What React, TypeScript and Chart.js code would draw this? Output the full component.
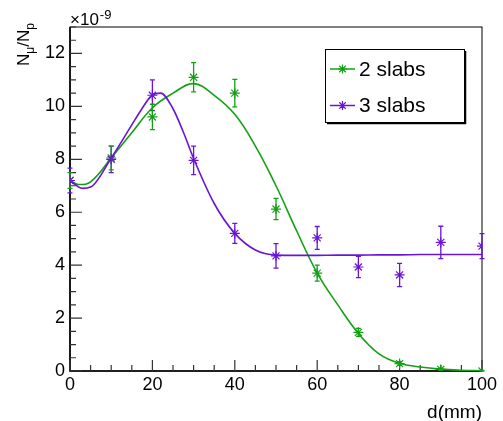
import { useEffect, useRef } from "react";
import Chart from "chart.js/auto";

const distances = [0, 10, 20, 30, 40, 50, 60, 70, 80, 90, 100];
const twoSlabs = [7.2, 8.05, 9.6, 11.1, 10.5, 6.12, 3.7, 1.46, 0.28, 0.06, 0.0];
const twoSlabsErr = [0.3, 0.45, 0.48, 0.55, 0.52, 0.4, 0.3, 0.15, 0.07, 0.04, 0.02];
const threeSlabs = [7.2, 8.0, 10.42, 7.96, 5.2, 4.35, 5.03, 3.93, 3.63, 4.86, 4.72];
const threeSlabsErr = [0.47, 0.5, 0.58, 0.54, 0.38, 0.46, 0.43, 0.4, 0.44, 0.61, 0.47];

// fitted curves
const twoFitX = [0, 2, 5, 10, 15, 20, 25, 30, 35, 40, 45, 50, 55, 60, 65, 70, 75, 80, 85, 90, 95, 100];
const twoFitY = [7.2, 7.05, 7.15, 8.05, 9.0, 9.95, 10.5, 10.86, 10.42, 9.7, 8.5, 7.0, 5.3, 3.7, 2.5, 1.42, 0.65, 0.29, 0.15, 0.07, 0.03, 0.01];
const threeFitX = [0, 3, 5, 10, 15, 17, 20, 22, 25, 27.5, 30, 35, 40, 45, 50, 55, 60, 65, 70, 75, 80, 85, 90, 95, 100];
const threeFitY = [7.2, 6.9, 6.95, 8.05, 9.3, 9.8, 10.43, 10.5, 9.91, 9.03, 8.03, 6.33, 5.2, 4.57, 4.38, 4.37, 4.37, 4.38, 4.38, 4.39, 4.39, 4.4, 4.4, 4.4, 4.4];

const xMajor = [0, 20, 40, 60, 80, 100];
const yMajor = [0, 2, 4, 6, 8, 10, 12];

const GREEN = "#14a014";
const PURPLE = "#6a14d6";
const FONT = "'Liberation Sans', Arial, sans-serif";

const toPoints = (xs: number[], ys: number[]) => xs.map((x, i) => ({ x, y: ys[i] }));

const errors: Record<number, number[]> = { 2: threeSlabsErr, 3: twoSlabsErr };

function drawStar(ctx: CanvasRenderingContext2D, x: number, y: number, r: number) {
  ctx.beginPath();
  ctx.moveTo(x - r, y);
  ctx.lineTo(x + r, y);
  ctx.moveTo(x, y - r);
  ctx.lineTo(x, y + r);
  const d = r * 0.72;
  ctx.moveTo(x - d, y - d);
  ctx.lineTo(x + d, y + d);
  ctx.moveTo(x - d, y + d);
  ctx.lineTo(x + d, y - d);
  ctx.stroke();
}

const framePlugin = {
  id: "frame",
  beforeDatasetsDraw(chart: any) {
    const { ctx, chartArea: a, scales } = chart;
    const x = scales.x;
    const y = scales.y;
    ctx.save();
    ctx.strokeStyle = "#000";
    ctx.lineWidth = 1;
    ctx.strokeRect(a.left, a.top, a.right - a.left, a.bottom - a.top);
    ctx.lineWidth = 1.6;
    ctx.beginPath();
    ctx.moveTo(a.left, a.top);
    ctx.lineTo(a.left, a.bottom);
    ctx.lineTo(a.right, a.bottom);
    ctx.stroke();
    ctx.lineWidth = 1.2;
    ctx.strokeStyle = "#333";
    ctx.beginPath();
    for (let v = 0; v <= 100; v += 5) {
      const px = x.getPixelForValue(v);
      const len = v % 20 === 0 ? 11 : 6;
      ctx.moveTo(px, a.bottom);
      ctx.lineTo(px, a.bottom - len);
    }
    for (let v = 0; v <= 13; v += 0.5) {
      const py = y.getPixelForValue(v);
      const len = v % 2 === 0 ? 12 : 6;
      ctx.moveTo(a.left, py);
      ctx.lineTo(a.left + len, py);
    }
    ctx.stroke();

    // error bars
    for (const key of Object.keys(errors)) {
      const i = Number(key);
      const ds = chart.data.datasets[i];
      const errs = errors[i];
      ctx.strokeStyle = ds.borderColor;
      ctx.lineWidth = 1.3;
      ctx.beginPath();
      ds.data.forEach((p: any, j: number) => {
        const px = x.getPixelForValue(p.x);
        const top = y.getPixelForValue(Math.min(13, p.y + errs[j]));
        const bot = y.getPixelForValue(Math.max(0, p.y - errs[j]));
        ctx.moveTo(px, top);
        ctx.lineTo(px, bot);
        ctx.moveTo(px - 2.5, top);
        ctx.lineTo(px + 2.5, top);
        ctx.moveTo(px - 2.5, bot);
        ctx.lineTo(px + 2.5, bot);
      });
      ctx.stroke();
    }
    ctx.restore();
  },
  afterDraw(chart: any) {
    const { ctx, chartArea: a } = chart;
    ctx.save();
    ctx.fillStyle = "#000";
    ctx.textBaseline = "alphabetic";
    ctx.textAlign = "left";

    // exponent label
    ctx.font = `17px ${FONT}`;
    ctx.fillText("\u00d710", a.left, 25);
    const w = ctx.measureText("\u00d710").width;
    ctx.font = `13px ${FONT}`;
    ctx.fillText("-9", a.left + w + 1, 19);

    // y title N_mu / N_p
    ctx.translate(29, 66);
    ctx.rotate(-Math.PI / 2);
    let cx = 0;
    const part = (t: string, size: number, dy: number) => {
      ctx.font = `${size}px ${FONT}`;
      ctx.fillText(t, cx, dy);
      cx += ctx.measureText(t).width;
    };
    part("N", 17, 0);
    part("\u03bc", 12, 5);
    part("/N", 17, 0);
    part("p", 12, 5);
    ctx.restore();

    // legend
    ctx.save();
    const bx = 325;
    const by = 49;
    const bw = 139;
    const bh = 73;
    ctx.fillStyle = "#fff";
    ctx.fillRect(bx, by, bw, bh);
    ctx.strokeStyle = "#000";
    ctx.lineWidth = 1;
    ctx.strokeRect(bx + 0.5, by + 0.5, bw, bh);
    ctx.lineWidth = 1.5;
    ctx.beginPath();
    ctx.moveTo(bx + bw + 1.5, by + 2);
    ctx.lineTo(bx + bw + 1.5, by + bh + 1.5);
    ctx.lineTo(bx + 2, by + bh + 1.5);
    ctx.stroke();
    const items = [
      { label: "2 slabs", color: GREEN, y: by + 20 },
      { label: "3 slabs", color: PURPLE, y: by + 56.5 },
    ];
    ctx.font = `21px ${FONT}`;
    ctx.textBaseline = "middle";
    for (const it of items) {
      ctx.strokeStyle = it.color;
      ctx.lineWidth = 1.5;
      ctx.beginPath();
      ctx.moveTo(bx + 5, it.y);
      ctx.lineTo(bx + 30, it.y);
      ctx.stroke();
      ctx.lineWidth = 1.2;
      drawStar(ctx, bx + 17.5, it.y, 4.5);
      ctx.fillStyle = "#000";
      ctx.fillText(it.label, bx + 34, it.y + 1);
    }
    ctx.restore();
  },
};

export default function App() {
  const canvasRef = useRef<HTMLCanvasElement>(null);

  useEffect(() => {
    document.body.style.margin = "0";
    if (!canvasRef.current) return;

    const tickFont = { family: FONT, size: 18 };

    const chart = new Chart(canvasRef.current, {
      type: "scatter",
      data: {
        datasets: [
          {
            label: "3 slabs fit",
            data: toPoints(threeFitX, threeFitY),
            showLine: true,
            borderColor: PURPLE,
            borderWidth: 1.6,
            pointRadius: 0,
            cubicInterpolationMode: "monotone",
          },
          {
            label: "2 slabs fit",
            data: toPoints(twoFitX, twoFitY),
            showLine: true,
            borderColor: GREEN,
            borderWidth: 1.6,
            pointRadius: 0,
            tension: 0.4,
          },
          {
            label: "3 slabs",
            data: toPoints(distances, threeSlabs),
            borderColor: PURPLE,
            backgroundColor: PURPLE,
            pointStyle: "star",
            pointRadius: 5,
            pointBorderWidth: 1.2,
          },
          {
            label: "2 slabs",
            data: toPoints(distances, twoSlabs),
            borderColor: GREEN,
            backgroundColor: GREEN,
            pointStyle: "star",
            pointRadius: 5,
            pointBorderWidth: 1.2,
          },
        ],
      },
      options: {
        responsive: false,
        animation: false,
        events: [],
        layout: { padding: { top: 27, right: 21, left: 0, bottom: 0 } },
        plugins: {
          legend: { display: false },
          tooltip: { enabled: false },
        },
        scales: {
          x: {
            type: "linear",
            min: 0,
            max: 100,
            grid: { display: false, drawTicks: false },
            border: { display: false },
            afterBuildTicks: (s: any) => {
              s.ticks = xMajor.map((value) => ({ value }));
            },
            afterFit: (s: any) => {
              s.height = 50;
            },
            ticks: { padding: 3, color: "#000", font: tickFont, maxRotation: 0, autoSkip: false },
            title: {
              display: true,
              text: "d(mm)",
              align: "end",
              color: "#000",
              font: { family: FONT, size: 19, lineHeight: 1 },
              padding: { top: 0, bottom: -1 },
            },
          },
          y: {
            type: "linear",
            min: 0,
            max: 13,
            grid: { display: false, drawTicks: false },
            border: { display: false },
            afterBuildTicks: (s: any) => {
              s.ticks = yMajor.map((value) => ({ value }));
            },
            afterFit: (s: any) => {
              s.width = 70;
            },
            ticks: { padding: 5, color: "#000", font: tickFont, autoSkip: false },
          },
        },
      },
      plugins: [framePlugin],
    });

    return () => chart.destroy();
  }, []);

  return (
    <div style={{ width: 503, height: 421, background: "#fff" }}>
      <canvas ref={canvasRef} width={503} height={421} />
    </div>
  );
}
